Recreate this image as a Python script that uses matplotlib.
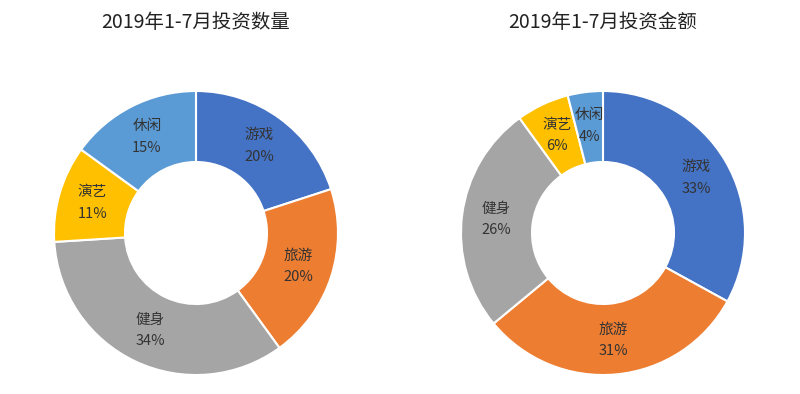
import matplotlib.pyplot as plt

plt.rcParams['font.family'] = ['Noto Sans CJK SC', 'DejaVu Sans']

cats = ['游戏', '旅游', '健身', '演艺', '休闲']
count_pct = [20, 20, 34, 11, 15]
amount_pct = [33, 31, 26, 6, 4]
titles = ['2019年1-7月投资数量', '2019年1-7月投资金额']
colors = ['#4472C4', '#ED7D31', '#A5A5A5', '#FFC000', '#5B9BD5']

fig = plt.figure(figsize=(8, 3.94), dpi=100)

# axes boxes in pixels: left, bottom, size
boxes = [(54, 19, 284), (461, 19, 284)]


def donut(box, vals, title):
    x0, y0, s = box
    ax = fig.add_axes([x0 / 800, y0 / 394, s / 800, s / 394])
    labels = ['%s\n%d%%' % (c, v) for c, v in zip(cats, vals)]
    wedges, texts = ax.pie(vals, colors=colors, startangle=90, counterclock=False,
                           labels=labels, labeldistance=0.76,
                           wedgeprops=dict(width=0.5, edgecolor='white', linewidth=1.5))
    for t in texts:
        t.set_ha('center')
        t.set_va('center')
        t.set_fontsize(10.5)
        t.set_color('#333333')
        t.set_linespacing(1.7)
    ax.set_aspect('equal')
    ax.set_xlim(-1, 1)
    ax.set_ylim(-1, 1)
    fig.text((x0 + s / 2) / 800, 1 - 23 / 394, title, ha='center', va='center',
             fontsize=14, color='#222222')


donut(boxes[0], count_pct, titles[0])
donut(boxes[1], amount_pct, titles[1])

fig.savefig('out.png', dpi=100)
